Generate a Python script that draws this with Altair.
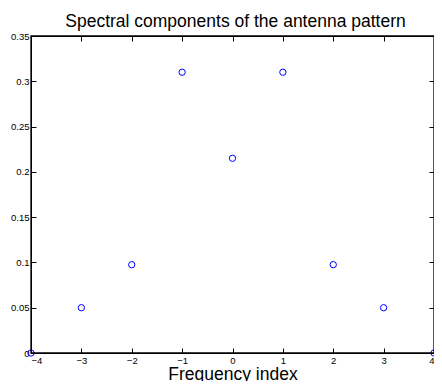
import altair as alt
import pandas as pd

freq = [-4, -3, -2, -1, 0, 1, 2, 3, 4]
amp = [0.0, 0.05, 0.0975, 0.31, 0.215, 0.31, 0.0975, 0.05, 0.0]
x_ticks = [-4, -3, -2, -1, 0, 1, 2, 3, 4]
y_ticks = [0, 0.05, 0.1, 0.15, 0.2, 0.25, 0.3, 0.35]

df = pd.DataFrame({"freq": freq, "amp": amp})
box = pd.DataFrame({"x0": [min(x_ticks)], "x1": [max(x_ticks)], "y0": [min(y_ticks)], "y1": [max(y_ticks)]})
FONT = "Liberation Sans"

xs = alt.Scale(domain=[min(x_ticks), max(x_ticks)], nice=False, zero=False)
ys = alt.Scale(domain=[min(y_ticks), max(y_ticks)], nice=False)

base = alt.Chart(df)

main = base.mark_point(shape="circle", filled=False, color="#0000ff", size=40, strokeWidth=1, opacity=1, clip=False).encode(
    x=alt.X("freq:Q", scale=xs, axis=alt.Axis(
        orient="bottom", values=x_ticks, format="~g", ticks=False, domain=False, grid=False,
        labelFont=FONT, labelFontSize=9.5, labelColor="black", labelPadding=2,
        title="Frequency index", titleFont=FONT, titleFontSize=17.5, titleFontWeight="normal",
        titleColor="black", titlePadding=1)),
    y=alt.Y("amp:Q", scale=ys, axis=alt.Axis(
        orient="left", values=y_ticks, format="~g", ticks=False, domain=False, grid=False,
        labelFont=FONT, labelFontSize=9.5, labelColor="black", labelPadding=2, title=None)),
)

def tick_axis(orient, values):
    return alt.Axis(orient=orient, values=values, offset=-5, tickSize=5, ticks=True,
                    tickColor="black", tickWidth=1, labels=False, domain=False, grid=False, title=None)

inner1 = base.mark_point(opacity=0).encode(
    x=alt.X("freq:Q", scale=xs, axis=tick_axis("bottom", x_ticks)),
    y=alt.Y("amp:Q", scale=ys, axis=tick_axis("left", y_ticks)),
)
inner2 = base.mark_point(opacity=0).encode(
    x=alt.X("freq:Q", scale=xs, axis=tick_axis("top", x_ticks)),
    y=alt.Y("amp:Q", scale=ys, axis=tick_axis("right", y_ticks)),
)
frame = alt.Chart(box).mark_rect(filled=False, stroke="black", strokeWidth=1.3, opacity=1,
                                 strokeOpacity=1).encode(
    x=alt.X("x0:Q", scale=xs, axis=None),
    x2="x1:Q",
    y=alt.Y("y0:Q", scale=ys, axis=None),
    y2="y1:Q",
)

chart = alt.layer(inner1, inner2, main, frame).resolve_axis(x="independent", y="independent").properties(
    width=403, height=317,
    autosize=alt.AutoSizeParams(type="none"),
    padding={"left": 23, "top": 28, "right": 0, "bottom": 28},
    title=alt.TitleParams(text="Spectral components of the antenna pattern", font=FONT,
                          fontSize=17.5, fontWeight="normal", color="black", anchor="middle",
                          offset=1, dx=3),
).configure(background="white", view=alt.ViewConfig(stroke="black", strokeWidth=1))

chart.save("out.html", embed_options={"renderer": "svg", "actions": False})
